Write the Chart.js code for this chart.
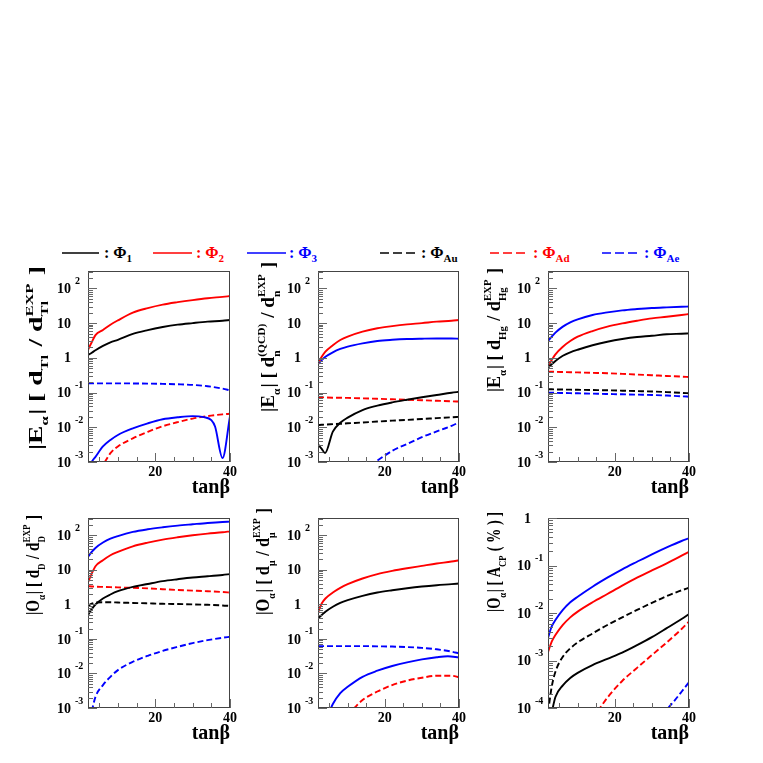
<!DOCTYPE html>
<html>
<head>
<meta charset="utf-8">
<script src="https://cdn.jsdelivr.net/npm/chart.js@4.4.1/dist/chart.umd.min.js"></script>
<style>
  body { margin: 0; background: #fff; }
  #page { position: relative; width: 763px; height: 763px; overflow: hidden; background: #fff;
          font-family: "Liberation Serif", serif; font-weight: bold; }
  canvas { position: absolute; }
  .leg { position: absolute; top: 243px; font-size: 16px; line-height: 20px; white-space: nowrap; }
  .leg sub { font-size: 11px; vertical-align: -4px; }
  svg.line { position: absolute; top: 248px; }
</style>
</head>
<body>
<div id="page">
  <div id="legend"></div>
  <canvas id="c1"></canvas>
  <canvas id="c2"></canvas>
  <canvas id="c3"></canvas>
  <canvas id="c4"></canvas>
  <canvas id="c5"></canvas>
  <canvas id="c6"></canvas>
</div>
<script>
// ---- data ----
const tanBeta = [2, 3, 4, 6, 8, 10, 14, 18, 22, 26, 30, 34, 38, 40];

// |E| for d_Tl
const tlPhi1 = [1.2, 1.4, 1.65, 2.2, 2.8, 3.3, 4.9, 6.3, 7.7, 9.0, 10, 11, 11.7, 12.3];
const tlPhi2 = [1.7, 2.8, 4.5, 6.3, 9, 12, 20, 27, 34, 40, 46, 52, 57, 60];
const tlPhi3X = [2, 3, 4, 6, 8, 10, 14, 18, 22, 26, 30, 33, 35, 36, 38, 40];
const tlPhi3 = [0.0005, 0.001, 0.0014, 0.0028, 0.0043, 0.006, 0.0093, 0.013, 0.017, 0.0194, 0.021, 0.0195, 0.016, 0.0105, 0.0013, 0.021];
const tlPhiAdX = [5, 6.5, 8, 10, 14, 18, 22, 26, 30, 34, 38, 40];
const tlPhiAd = [0.0006, 0.001, 0.0018, 0.0028, 0.0048, 0.0074, 0.0107, 0.0141, 0.0178, 0.021, 0.0236, 0.0245];
const tlPhiAe = [0.184, 0.184, 0.184, 0.184, 0.184, 0.184, 0.183, 0.181, 0.178, 0.173, 0.166, 0.152, 0.13, 0.116];

// |E| for d_n(QCD)
const nPhi1X = [2, 3, 3.9, 6, 8, 10, 14, 18, 22, 26, 30, 34, 38, 40];
const nPhi1 = [0.0032, 0.0024, 0.0018, 0.0075, 0.0135, 0.019, 0.0314, 0.042, 0.052, 0.062, 0.073, 0.085, 0.099, 0.105];
const nPhi2 = [0.69, 1.07, 1.5, 2.3, 3.25, 4.1, 5.7, 7.1, 8.2, 9.2, 10, 11, 11.7, 12.3];
const nPhi3 = [0.65, 0.86, 1.07, 1.44, 1.8, 2.1, 2.6, 3.05, 3.3, 3.47, 3.55, 3.6, 3.6, 3.55];
const nPhiAu = [0.0116, 0.0118, 0.012, 0.0123, 0.0126, 0.013, 0.0137, 0.0146, 0.0155, 0.0163, 0.0173, 0.0183, 0.0194, 0.020];
const nPhiAd = [0.073, 0.073, 0.072, 0.071, 0.071, 0.070, 0.068, 0.066, 0.064, 0.062, 0.060, 0.058, 0.056, 0.055];
const nPhiAeX = [16, 18, 22, 26, 30, 34, 38, 40];
const nPhiAe = [0.0008, 0.0011, 0.0021, 0.0033, 0.0052, 0.0076, 0.011, 0.0139];

// |E| for d_Hg
const hgPhi1 = [0.52, 0.65, 0.81, 1.15, 1.44, 1.71, 2.3, 2.9, 3.47, 3.97, 4.3, 4.75, 4.95, 5.07];
const hgPhi2 = [0.58, 0.86, 1.26, 2.09, 3.05, 4.05, 5.9, 7.9, 9.8, 11.7, 13.7, 15.2, 17.1, 18.3];
const hgPhi3 = [3.05, 4.05, 5.3, 7.9, 10.5, 12.8, 17.1, 20.4, 23.3, 25.4, 27.2, 28.4, 29.5, 30];
const hgPhiAu = [0.124, 0.124, 0.123, 0.122, 0.121, 0.12, 0.118, 0.116, 0.113, 0.11, 0.107, 0.103, 0.098, 0.095];
const hgPhiAd = [0.40, 0.398, 0.395, 0.39, 0.385, 0.38, 0.37, 0.36, 0.345, 0.33, 0.315, 0.3, 0.287, 0.28];
const hgPhiAe = [0.099, 0.099, 0.098, 0.097, 0.096, 0.095, 0.093, 0.091, 0.089, 0.087, 0.085, 0.082, 0.078, 0.076];

// |O| for d_D
const dPhi1 = [0.49, 0.73, 0.99, 1.48, 1.93, 2.4, 3.2, 3.9, 4.7, 5.35, 6.0, 6.5, 7.1, 7.5];
const dPhi2 = [4.3, 7.8, 12.7, 18.9, 26.4, 33, 48, 61.5, 75, 87.5, 100, 112, 122, 130];
const dPhi3 = [23.7, 33, 43, 61.5, 80, 95, 125, 149, 170, 190, 208, 227, 243, 248];
const dPhiAu = [0.9, 1.05, 1.12, 1.15, 1.15, 1.13, 1.1, 1.07, 1.04, 1.02, 1.0, 0.97, 0.93, 0.9];
const dPhiAd = [3.35, 3.3, 3.25, 3.2, 3.15, 3.1, 3.0, 2.9, 2.75, 2.6, 2.5, 2.4, 2.28, 2.2];
const dPhiAeX = [3, 4, 6, 8, 10, 14, 18, 22, 26, 30, 34, 38, 40];
const dPhiAe = [0.0008, 0.0021, 0.0046, 0.008, 0.0125, 0.0218, 0.0325, 0.045, 0.059, 0.0756, 0.092, 0.108, 0.115];

// |O| for d_mu
const muPhi1 = [0.39, 0.49, 0.61, 0.85, 1.1, 1.32, 1.76, 2.2, 2.57, 2.94, 3.29, 3.59, 3.84, 4.0];
const muPhi2 = [0.58, 1.06, 1.48, 2.2, 3.0, 3.84, 5.6, 7.5, 9.3, 11.1, 13, 15.2, 17.4, 18.9];
const muPhi3X = [5, 6, 8, 10, 14, 18, 22, 26, 30, 34, 37, 40];
const muPhi3 = [0.00075, 0.0013, 0.0027, 0.0041, 0.008, 0.012, 0.0164, 0.021, 0.0255, 0.0295, 0.0315, 0.029];
const muPhiAdX = [10, 12, 14, 18, 22, 26, 30, 34, 38, 40];
const muPhiAd = [0.0006, 0.00105, 0.0017, 0.003, 0.0046, 0.0062, 0.0075, 0.0086, 0.0086, 0.0077];
const muPhiAe = [0.062, 0.062, 0.062, 0.062, 0.062, 0.062, 0.062, 0.061, 0.06, 0.058, 0.055, 0.05, 0.043, 0.038];

// |O| for A_CP (%)
const cpPhi1X = [3, 4, 6, 8, 10, 14, 18, 22, 26, 30, 34, 38, 40];
const cpPhi1 = [0.00008, 0.00017, 0.0003, 0.00043, 0.00055, 0.0008, 0.00108, 0.00146, 0.0021, 0.0031, 0.0048, 0.0075, 0.0095];
const cpPhi2 = [0.00149, 0.0025, 0.00344, 0.0056, 0.0081, 0.0107, 0.0168, 0.0251, 0.0376, 0.0554, 0.079, 0.111, 0.161, 0.195];
const cpPhi3 = [0.003, 0.0052, 0.0071, 0.0116, 0.0168, 0.022, 0.0358, 0.0554, 0.083, 0.12, 0.172, 0.241, 0.328, 0.373];
const cpPhiAu = [0.00008, 0.00028, 0.00058, 0.0012, 0.0018, 0.0024, 0.0037, 0.0056, 0.0081, 0.0116, 0.0163, 0.0228, 0.030, 0.034];
const cpPhiAdX = [14, 16, 18, 22, 26, 30, 34, 38, 40];
const cpPhiAd = [0.00006, 0.0001, 0.000165, 0.00037, 0.0007, 0.0013, 0.0024, 0.0046, 0.0066];
const cpPhiAeX = [33, 34.4, 36, 38, 40];
const cpPhiAe = [0.00007, 0.0001, 0.00014, 0.00022, 0.00035];

// ---- legend ----
const legendItems = [
  { x1: 62, x2: 99, tx: 104, color: '#000000', dash: false, sub: '1' },
  { x1: 153, x2: 192, tx: 196, color: '#ff0000', dash: false, sub: '2' },
  { x1: 247, x2: 286, tx: 289, color: '#0000ff', dash: false, sub: '3' },
  { x1: 380, x2: 417, tx: 421, color: '#000000', dash: true, sub: 'Au' },
  { x1: 490, x2: 528, tx: 533, color: '#ff0000', dash: true, sub: 'Ad' },
  { x1: 602, x2: 640, tx: 644, color: '#0000ff', dash: true, sub: 'Ae' }
];
const legendBox = document.getElementById('legend');
legendItems.forEach(it => {
  const w = it.x2 - it.x1;
  legendBox.insertAdjacentHTML('beforeend',
    `<svg class="line" style="left:${it.x1}px" width="${w}" height="10">
       <line x1="0" y1="5" x2="${w}" y2="5" stroke="${it.color}" stroke-width="1.5" ${it.dash ? 'stroke-dasharray="9,4"' : ''}/>
     </svg>
     <div class="leg" style="left:${it.tx}px;color:${it.color}">: &Phi;<sub>${it.sub}</sub></div>`);
});

// ---- panels ----
const BLACK = '#000000', RED = '#ff0000', BLUE = '#0000ff';
function line(x, y, color, dash) { return { x, y, color, dash }; }

const panels = [
  { id: 'c1', left: 88, top: 271, w: 142, h: 191, ymin: 1e-3, ymax: Math.pow(10, 2.5),
    title: { x: 42, y: 450, len: 184, big: 'E', segs: [{ t: ' [ d' }, { sub: 'Tl' }, { t: ' / d' }, { sub: 'Tl', sup: 'EXP' }, { t: ' ]' }] },
    series: [line(tanBeta, tlPhi1, BLACK), line(tanBeta, tlPhi2, RED), line(tlPhi3X, tlPhi3, BLUE),
             line(tlPhiAdX, tlPhiAd, RED, true), line(tanBeta, tlPhiAe, BLUE, true)] },
  { id: 'c2', left: 318, top: 271, w: 141, h: 191, ymin: 1e-3, ymax: Math.pow(10, 2.5),
    title: { x: 274, y: 412, len: 150, big: 'E', segs: [{ t: ' [ d' }, { sub: 'n', sup: '(QCD)' }, { t: ' / d' }, { sub: 'n', sup: 'EXP' }, { t: ' ]' }] },
    series: [line(nPhi1X, nPhi1, BLACK), line(tanBeta, nPhi2, RED), line(tanBeta, nPhi3, BLUE),
             line(tanBeta, nPhiAu, BLACK, true), line(tanBeta, nPhiAd, RED, true), line(nPhiAeX, nPhiAe, BLUE, true)] },
  { id: 'c3', left: 548, top: 271, w: 141, h: 191, ymin: 1e-3, ymax: Math.pow(10, 2.5),
    title: { x: 500, y: 392, len: 124, big: 'E', segs: [{ t: ' [ d' }, { sub: 'Hg' }, { t: ' / d' }, { sub: 'Hg', sup: 'EXP' }, { t: ' ]' }] },
    series: [line(tanBeta, hgPhi1, BLACK), line(tanBeta, hgPhi2, RED), line(tanBeta, hgPhi3, BLUE),
             line(tanBeta, hgPhiAu, BLACK, true), line(tanBeta, hgPhiAd, RED, true), line(tanBeta, hgPhiAe, BLUE, true)] },
  { id: 'c4', left: 88, top: 518, w: 142, h: 190, ymin: 1e-3, ymax: Math.pow(10, 2.5),
    title: { x: 39, y: 615, len: 100, big: 'O', segs: [{ t: ' [ d' }, { sub: 'D' }, { t: ' / d' }, { sub: 'D', sup: 'EXP' }, { t: ' ]' }] },
    series: [line(tanBeta, dPhi1, BLACK), line(tanBeta, dPhi2, RED), line(tanBeta, dPhi3, BLUE),
             line(tanBeta, dPhiAu, BLACK, true), line(tanBeta, dPhiAd, RED, true), line(dPhiAeX, dPhiAe, BLUE, true)] },
  { id: 'c5', left: 318, top: 518, w: 141, h: 190, ymin: 1e-3, ymax: Math.pow(10, 2.5),
    title: { x: 269, y: 615, len: 107, big: 'O', segs: [{ t: ' [ d' }, { sub: 'μ' }, { t: ' / d' }, { sub: 'μ', sup: 'EXP' }, { t: ' ]' }] },
    series: [line(tanBeta, muPhi1, BLACK), line(tanBeta, muPhi2, RED), line(muPhi3X, muPhi3, BLUE),
             line(muPhiAdX, muPhiAd, RED, true), line(tanBeta, muPhiAe, BLUE, true)] },
  { id: 'c6', left: 548, top: 518, w: 141, h: 190, ymin: 1e-4, ymax: 1,
    title: { x: 500, y: 612, len: 100, big: 'O', segs: [{ t: ' [ A' }, { sub: 'CP' }, { t: ' ( % ) ]' }] },
    series: [line(cpPhi1X, cpPhi1, BLACK), line(tanBeta, cpPhi2, RED), line(tanBeta, cpPhi3, BLUE),
             line(tanBeta, cpPhiAu, BLACK, true), line(cpPhiAdX, cpPhiAd, RED, true), line(cpPhiAeX, cpPhiAe, BLUE, true)] }
];

const FONT = '"Liberation Serif", "Times New Roman", serif';
const PAD_L = 88, PAD_T = 14, PAD_R = 10, PAD_B = 45;

// rotated y title with sub/superscripts, stretched to the length seen in the reference
function drawTitle(ctx, title, offX, offY) {
  const size = 19;
  const segs = [{ t: '|' + title.big }, { sub: 'α' }, { t: '|' }].concat(title.segs);
  const f = s => `bold ${s}px ${FONT}`;
  const widths = segs.map(g => {
    if (g.t !== undefined) { ctx.font = f(size); return ctx.measureText(g.t).width; }
    ctx.font = f(size * 0.6);
    return Math.max(ctx.measureText(g.sub || '').width, ctx.measureText(g.sup || '').width) + 1;
  });
  const total = widths.reduce((a, b) => a + b, 0);
  ctx.save();
  ctx.translate(title.x - offX, title.y - offY);
  ctx.rotate(-Math.PI / 2);
  ctx.scale(title.len / total, 1);
  ctx.fillStyle = '#000';
  ctx.textBaseline = 'alphabetic';
  ctx.textAlign = 'left';
  let pos = 0;
  segs.forEach((g, i) => {
    if (g.t !== undefined) {
      ctx.font = f(size);
      ctx.fillText(g.t, pos, 0);
    } else {
      ctx.font = f(size * 0.6);
      if (g.sub) ctx.fillText(g.sub, pos, size * 0.3);
      if (g.sup) ctx.fillText(g.sup, pos, -size * 0.45);
    }
    pos += widths[i];
  });
  ctx.restore();
}

function framePlugin(p) {
  return {
    id: 'frame' + p.id,
    afterDraw(chart) {
      const { ctx, chartArea: a, scales: { x, y } } = chart;
      const offX = p.left - PAD_L, offY = p.top - PAD_T;
      ctx.save();
      ctx.strokeStyle = '#444';
      ctx.lineWidth = 1;
      ctx.strokeRect(a.left + 0.5, a.top + 0.5, a.right - a.left - 1, a.bottom - a.top - 1);

      // log y ticks (inside the frame)
      ctx.strokeStyle = '#666';
      ctx.beginPath();
      const d0 = Math.round(Math.log10(p.ymin)), d1 = Math.floor(Math.log10(p.ymax));
      for (let d = d0; d <= d1; d++) {
        for (let k = 1; k <= 9; k++) {
          const v = k * Math.pow(10, d);
          if (v > p.ymax * 1.0001) break;
          const py = Math.round(y.getPixelForValue(v)) + 0.5;
          ctx.moveTo(a.left, py);
          ctx.lineTo(a.left + (k === 1 ? 9 : 5), py);
        }
      }
      // x ticks every 5
      for (let t = 5; t <= 40; t += 5) {
        const px = Math.round(x.getPixelForValue(t)) + 0.5;
        ctx.moveTo(px, a.bottom);
        ctx.lineTo(px, a.bottom - (t % 20 === 0 ? 9 : 5));
      }
      ctx.stroke();

      // y tick labels
      ctx.fillStyle = '#000';
      ctx.textBaseline = 'middle';
      for (let d = d0; d <= d1; d++) {
        const py = y.getPixelForValue(Math.pow(10, d));
        ctx.font = `bold 14px ${FONT}`;
        ctx.textAlign = 'right';
        if (d === 0) { ctx.fillText('1', a.left - 17, py + 1); continue; }
        ctx.fillText('10', a.left - 17, py + 1);
        if (d !== 1) {
          ctx.font = `bold 10px ${FONT}`;
          ctx.textAlign = 'left';
          ctx.fillText(String(d), a.left - 13, py - 7);
        }
      }
      // x tick labels
      ctx.font = `bold 14px ${FONT}`;
      ctx.textAlign = 'center';
      [20, 40].forEach(t => ctx.fillText(String(t), x.getPixelForValue(t), a.bottom + 10));
      // x title
      ctx.font = `bold 20px ${FONT}`;
      ctx.textAlign = 'right';
      ctx.textBaseline = 'alphabetic';
      ctx.fillText('tanβ', a.right, a.bottom + 31);
      ctx.restore();

      drawTitle(ctx, p.title, offX, offY);
    }
  };
}

panels.forEach(p => {
  const cv = document.getElementById(p.id);
  cv.width = PAD_L + p.w + PAD_R;
  cv.height = PAD_T + p.h + PAD_B;
  cv.style.left = (p.left - PAD_L) + 'px';
  cv.style.top = (p.top - PAD_T) + 'px';
  new Chart(cv, {
    type: 'line',
    data: {
      datasets: p.series.map(s => ({
        data: s.x.map((t, i) => ({ x: t, y: s.y[i] })),
        borderColor: s.color,
        borderWidth: 1.9,
        borderDash: s.dash ? [6, 3] : [],
        pointRadius: 0,
        fill: false,
        cubicInterpolationMode: 'monotone'
      }))
    },
    options: {
      responsive: false,
      animation: false,
      devicePixelRatio: 1,
      events: [],
      layout: { padding: { left: 0, top: PAD_T, right: PAD_R, bottom: 0 } },
      plugins: { legend: { display: false }, tooltip: { enabled: false } },
      scales: {
        x: { type: 'linear', min: 2, max: 40,
             ticks: { display: false }, grid: { display: false }, border: { display: false },
             afterFit: s => { s.height = PAD_B; } },
        y: { type: 'logarithmic', min: p.ymin, max: p.ymax,
             ticks: { display: false }, grid: { display: false }, border: { display: false },
             afterFit: s => { s.width = PAD_L; } }
      }
    },
    plugins: [framePlugin(p)]
  });
});
</script>
</body>
</html>
